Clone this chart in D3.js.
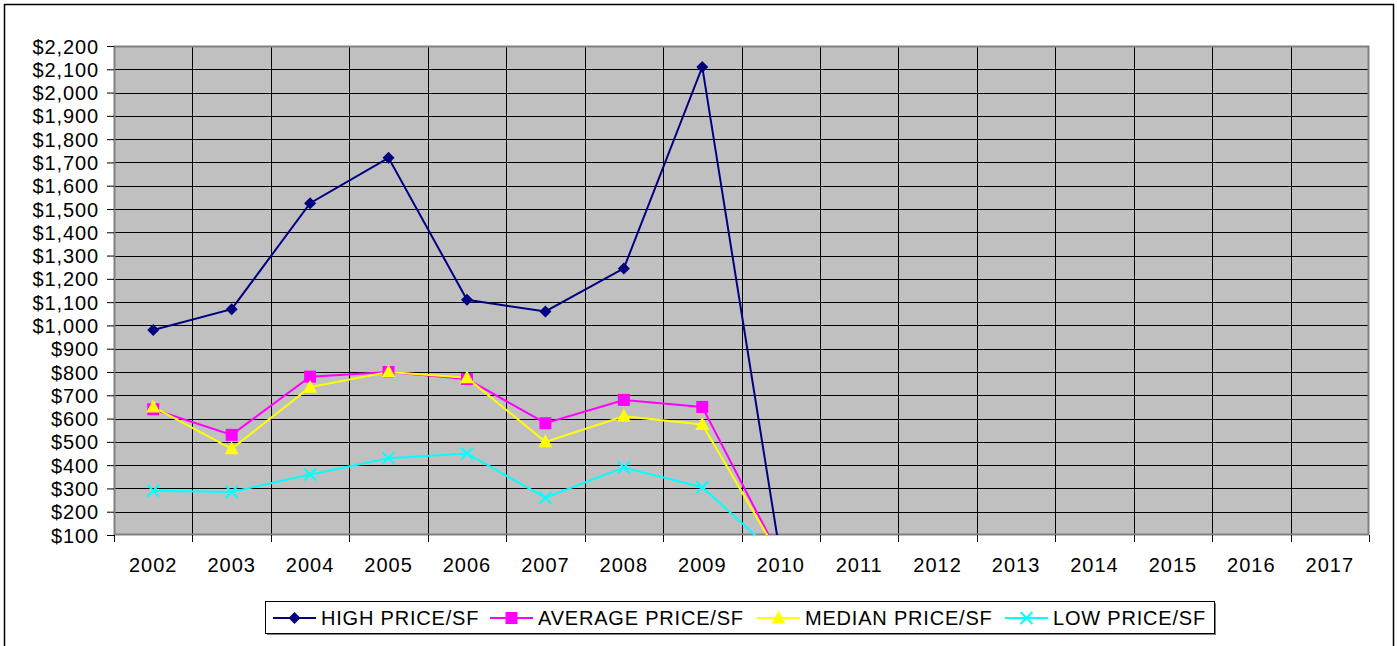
<!DOCTYPE html>
<html>
<head>
<meta charset="utf-8">
<script src="https://cdn.jsdelivr.net/npm/d3@7"></script>
<style>
  body { margin: 0; background: #fff; }
  svg text { font-family: "Liberation Sans", Arial, sans-serif; fill: #000; }
</style>
</head>
<body>
<div id="chart"></div>
<script>
var years = ["2002","2003","2004","2005","2006","2007","2008","2009","2010","2011","2012","2013","2014","2015","2016","2017"];
var highPrice = [980, 1070, 1525, 1720, 1110, 1060, 1245, 2110, 0];
var avgPrice = [640, 530, 780, 800, 770, 580, 680, 650, 0];
var medianPrice = [650, 470, 735, 800, 775, 500, 610, 575, 0];
var lowPrice = [290, 285, 360, 430, 450, 260, 390, 305, 0];
var yTicks = [100,200,300,400,500,600,700,800,900,1000,1100,1200,1300,1400,1500,1600,1700,1800,1900,2000,2100,2200];

var series = [
    {name: "HIGH PRICE/SF", values: highPrice, color: "#000080", marker: "diamond"},
    {name: "AVERAGE PRICE/SF", values: avgPrice, color: "#FF00FF", marker: "square"},
    {name: "MEDIAN PRICE/SF", values: medianPrice, color: "#FFFF00", marker: "triangle"},
    {name: "LOW PRICE/SF", values: lowPrice, color: "#00FFFF", marker: "cross"}
];

var W = 1397, H = 646;
var plot = {left: 114, top: 46, right: 1369, bottom: 535};

var svg = d3.select("#chart").append("svg").attr("width", W).attr("height", H);

// outer frame
svg.append("rect").attr("x", 4.5).attr("y", 4.5).attr("width", 1389).attr("height", 660)
    .attr("fill", "#fff").attr("stroke", "#000").attr("stroke-width", 1.5);

var x = d3.scaleBand().domain(years).range([plot.left, plot.right]).padding(0);
var y = d3.scaleLinear().domain([100, 2200]).range([plot.bottom, plot.top]);

// plot background
svg.append("rect").attr("x", plot.left).attr("y", plot.top)
    .attr("width", plot.right - plot.left).attr("height", plot.bottom - plot.top)
    .attr("fill", "#C0C0C0");

// horizontal gridlines
svg.append("g").selectAll("line").data(yTicks.slice(1, -1)).enter().append("line")
    .attr("x1", plot.left).attr("x2", plot.right)
    .attr("y1", function(d) { return Math.round(y(d)) + 0.5; })
    .attr("y2", function(d) { return Math.round(y(d)) + 0.5; })
    .attr("stroke", "#000").attr("stroke-width", 1);

// vertical gridlines at category boundaries
svg.append("g").selectAll("line").data(years.slice(1)).enter().append("line")
    .attr("x1", function(d) { return Math.round(x(d)) + 0.5; })
    .attr("x2", function(d) { return Math.round(x(d)) + 0.5; })
    .attr("y1", plot.top).attr("y2", plot.bottom)
    .attr("stroke", "#000").attr("stroke-width", 1);

// plot border
svg.append("rect").attr("x", plot.left + 0.5).attr("y", plot.top + 0.5)
    .attr("width", plot.right - plot.left - 1).attr("height", plot.bottom - plot.top - 1)
    .attr("fill", "none").attr("stroke", "#808080").attr("stroke-width", 2);

// y axis
var yAxis = svg.append("g").attr("transform", "translate(" + plot.left + ",0)")
    .call(d3.axisLeft(y).tickValues(yTicks).tickSize(7).tickPadding(8)
        .tickFormat(function(d) { return "$" + d3.format(",")(d); }));
yAxis.select(".domain").remove();
yAxis.selectAll("line").attr("stroke", "#000");
yAxis.selectAll("text").style("font-size", "20px").style("letter-spacing", "0.9px").attr("dy", "0.35em");

// x axis
var xAxis = svg.append("g").attr("transform", "translate(0," + plot.bottom + ")")
    .call(d3.axisBottom(x).tickSize(0).tickPadding(23));
xAxis.select(".domain").remove();
xAxis.selectAll("text").style("font-size", "20px").style("letter-spacing", "1px");
svg.append("g").selectAll("line").data(years.concat(["end"])).enter().append("line")
    .attr("x1", function(d, i) { return Math.round(plot.left + i * x.bandwidth()) + 0.5; })
    .attr("x2", function(d, i) { return Math.round(plot.left + i * x.bandwidth()) + 0.5; })
    .attr("y1", plot.bottom).attr("y2", plot.bottom + 7)
    .attr("stroke", "#000");

// clip for series
svg.append("clipPath").attr("id", "plotClip").append("rect")
    .attr("x", plot.left).attr("y", plot.top)
    .attr("width", plot.right - plot.left).attr("height", plot.bottom - plot.top);

function cx(i) { return x(years[i]) + x.bandwidth() / 2; }

function drawMarker(g, type, color) {
    if (type == "diamond") {
        g.append("path").attr("d", "M0,-6L6,0L0,6L-6,0Z").attr("fill", color);
    } else if (type == "square") {
        g.append("rect").attr("x", -6).attr("y", -6).attr("width", 12).attr("height", 12).attr("fill", color);
    } else if (type == "triangle") {
        g.append("path").attr("d", "M0,-7.5L7,5.5L-7,5.5Z").attr("fill", color);
    } else {
        g.append("path").attr("d", "M-6,-6L6,6M-6,6L6,-6").attr("stroke", color).attr("stroke-width", 2);
    }
}

var line = d3.line()
    .x(function(d, i) { return cx(i); })
    .y(function(d) { return y(d); });

var seriesG = svg.append("g").attr("clip-path", "url(#plotClip)");
series.forEach(function(s) {
    seriesG.append("path").datum(s.values)
        .attr("d", line).attr("fill", "none")
        .attr("stroke", s.color).attr("stroke-width", 2);
});
series.forEach(function(s) {
    s.values.forEach(function(v, i) {
        if (y(v) > plot.bottom) return;
        var m = seriesG.append("g").attr("transform", "translate(" + cx(i) + "," + y(v) + ")");
        drawMarker(m, s.marker, s.color);
    });
});

// legend
var legend = svg.append("g");
legend.append("rect").attr("x", 267).attr("y", 603).attr("width", 949).attr("height", 32)
    .attr("fill", "#808080");
legend.append("rect").attr("x", 265.5).attr("y", 601.5).attr("width", 949).attr("height", 32)
    .attr("fill", "#fff").attr("stroke", "#000").attr("stroke-width", 1);
var legendX = [273, 490, 757, 1005];
series.forEach(function(s, i) {
    var item = legend.append("g").attr("transform", "translate(" + legendX[i] + ",618)");
    item.append("line").attr("x1", 0).attr("x2", 43).attr("y1", 0).attr("y2", 0)
        .attr("stroke", s.color).attr("stroke-width", 2);
    var m = item.append("g").attr("transform", "translate(21.5,0)");
    drawMarker(m, s.marker, s.color);
    item.append("text").attr("x", 48).attr("y", 0).attr("dy", "0.36em")
        .style("font-size", "20px").style("letter-spacing", "0.8px").text(s.name);
});
</script>
</body>
</html>
